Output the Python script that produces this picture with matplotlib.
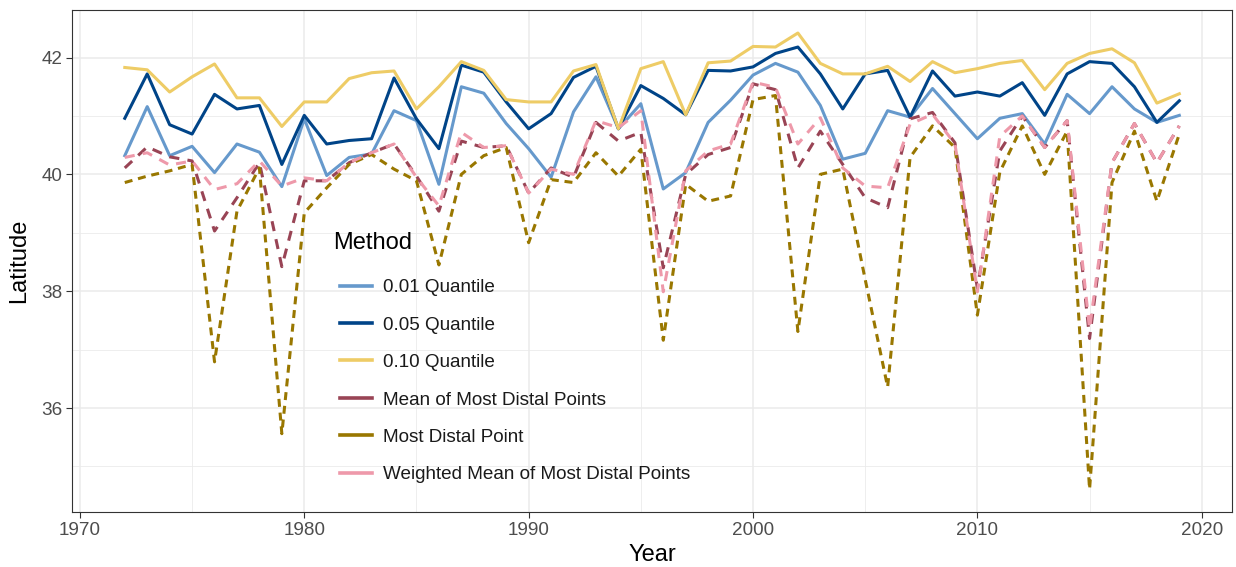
import numpy as np
import matplotlib.pyplot as plt
from matplotlib.lines import Line2D

plt.rcParams['font.family'] = ['Liberation Sans', 'DejaVu Sans']

years = list(range(1972, 2020))

q01 = [40.32, 41.16, 40.32, 40.48, 40.03, 40.52, 40.38, 39.79, 40.95, 39.98,
       40.29, 40.35, 41.09, 40.92, 39.83, 41.50, 41.39, 40.87, 40.44, 39.95,
       41.07, 41.67, 40.78, 41.21, 39.75, 40.03, 40.89, 41.27, 41.70, 41.90,
       41.75, 41.18, 40.26, 40.36, 41.09, 40.98, 41.47, 41.04, 40.61, 40.96,
       41.04, 40.52, 41.37, 41.04, 41.50, 41.12, 40.89, 41.01]
q05 = [40.96, 41.72, 40.85, 40.69, 41.37, 41.12, 41.18, 40.17, 41.01, 40.52,
       40.58, 40.61, 41.65, 40.95, 40.44, 41.87, 41.75, 41.24, 40.78, 41.04,
       41.66, 41.85, 40.78, 41.52, 41.30, 41.02, 41.78, 41.77, 41.84, 42.07,
       42.18, 41.72, 41.12, 41.72, 41.78, 40.98, 41.77, 41.34, 41.41, 41.34,
       41.57, 41.01, 41.72, 41.93, 41.90, 41.50, 40.89, 41.26]
q10 = [41.83, 41.79, 41.41, 41.67, 41.89, 41.31, 41.31, 40.82, 41.24, 41.24,
       41.64, 41.74, 41.77, 41.12, 41.50, 41.93, 41.78, 41.28, 41.24, 41.24,
       41.77, 41.88, 40.78, 41.81, 41.93, 41.02, 41.91, 41.94, 42.19, 42.18,
       42.42, 41.90, 41.72, 41.72, 41.85, 41.59, 41.93, 41.74, 41.81, 41.90,
       41.95, 41.45, 41.90, 42.07, 42.15, 41.91, 41.22, 41.38]
mean_distal = [40.11, 40.47, 40.30, 40.23, 39.03, 39.60, 40.20, 38.42, 39.89, 39.89,
               40.20, 40.37, 40.52, 39.97, 39.37, 40.57, 40.46, 40.49, 39.68, 40.11,
               39.95, 40.89, 40.57, 40.72, 38.40, 40.00, 40.34, 40.46, 41.55, 41.45,
               40.11, 40.74, 40.17, 39.60, 39.43, 40.95, 41.06, 40.54, 38.05, 40.40,
               41.00, 40.46, 40.92, 37.19, 40.20, 40.87, 40.20, 40.83]
most_distal = [39.86, 39.97, 40.06, 40.17, 36.79, 39.37, 40.11, 35.56, 39.34, 39.77,
               40.17, 40.34, 40.09, 39.89, 38.45, 40.00, 40.32, 40.46, 38.83, 39.91,
               39.86, 40.37, 39.97, 40.43, 37.16, 39.83, 39.54, 39.63, 41.28, 41.35,
               37.31, 40.00, 40.09, 38.20, 36.36, 40.29, 40.83, 40.46, 37.59, 40.04,
               40.83, 40.00, 40.74, 34.61, 39.86, 40.74, 39.54, 40.69]
weighted_mean = [40.29, 40.37, 40.16, 40.23, 39.74, 39.84, 40.23, 39.80, 39.94, 39.89,
                 40.20, 40.37, 40.52, 39.95, 39.46, 40.72, 40.46, 40.49, 39.68, 40.09,
                 40.00, 40.92, 40.80, 41.09, 37.99, 40.06, 40.40, 40.52, 41.58, 41.49,
                 40.52, 40.97, 40.11, 39.80, 39.77, 40.86, 41.03, 40.52, 37.99, 40.65,
                 41.00, 40.46, 40.92, 37.36, 40.20, 40.87, 40.20, 40.83]

methods = ['0.01 Quantile', '0.05 Quantile', '0.10 Quantile',
           'Mean of Most Distal Points', 'Most Distal Point',
           'Weighted Mean of Most Distal Points']
series = [q01, q05, q10, mean_distal, most_distal, weighted_mean]
colors = ['#6699CC', '#004488', '#EECC66', '#994455', '#997700', '#EE99AA']
styles = ['-', '-', '-', (0, (3.3, 2.7)), (0, (2.6, 1.9)), (0, (3.3, 2.7))]

fig, ax = plt.subplots(figsize=(12.36, 5.67), dpi=100)
fig.subplots_adjust(left=0.0583, right=0.9968, top=0.982, bottom=0.097)

for name, vals, col, ls in zip(methods, series, colors, styles):
    ax.plot(years, vals, color=col, linestyle=ls, linewidth=2.2, label=name)

# ggplot-like limits (5% expansion)
lo = min(min(s) for s in series)
hi = max(max(s) for s in series)
pad = (hi - lo) * 0.05
ax.set_ylim(lo - pad, hi + pad)
xpad = (years[-1] - years[0]) * 0.05
ax.set_xlim(years[0] - xpad, years[-1] + xpad)

ax.set_xticks([1970, 1980, 1990, 2000, 2010, 2020])
ax.set_xticks([1975, 1985, 1995, 2005, 2015], minor=True)
ax.set_yticks([36, 38, 40, 42])
ax.set_yticks([35, 37, 39, 41], minor=True)
ax.grid(which='major', color='#EBEBEB', linewidth=1.1)
ax.grid(which='minor', color='#EBEBEB', linewidth=0.6)
ax.set_axisbelow(True)
ax.tick_params(which='major', length=4, width=0.8, color='#333333',
               labelsize=13.6, labelcolor='#4D4D4D', pad=3)
ax.tick_params(which='minor', length=0)
for sp in ax.spines.values():
    sp.set_color('#333333')
    sp.set_linewidth(0.8)

ax.set_xlabel('Year', fontsize=17, color='black', labelpad=4)
ax.set_ylabel('Latitude', fontsize=17, color='black', labelpad=8)

# legend: title drawn separately so keys can sit slightly indented
fig.text(333 / 1236, 1 - 243 / 567, 'Method', fontsize=17, va='center', ha='left')
handles = [Line2D([], [], color=c, linewidth=2.6) for c in colors]
leg = ax.legend(handles, methods, loc='upper left',
                bbox_to_anchor=(340 / 1236, 1 - 279 / 567),
                bbox_transform=fig.transFigure, frameon=False,
                fontsize=13.6, handlelength=1.69, handletextpad=0.58,
                labelspacing=1.07, borderpad=0, borderaxespad=0)
for t in leg.get_texts():
    t.set_color('#1A1A1A')

fig.savefig('out.png', dpi=100)
